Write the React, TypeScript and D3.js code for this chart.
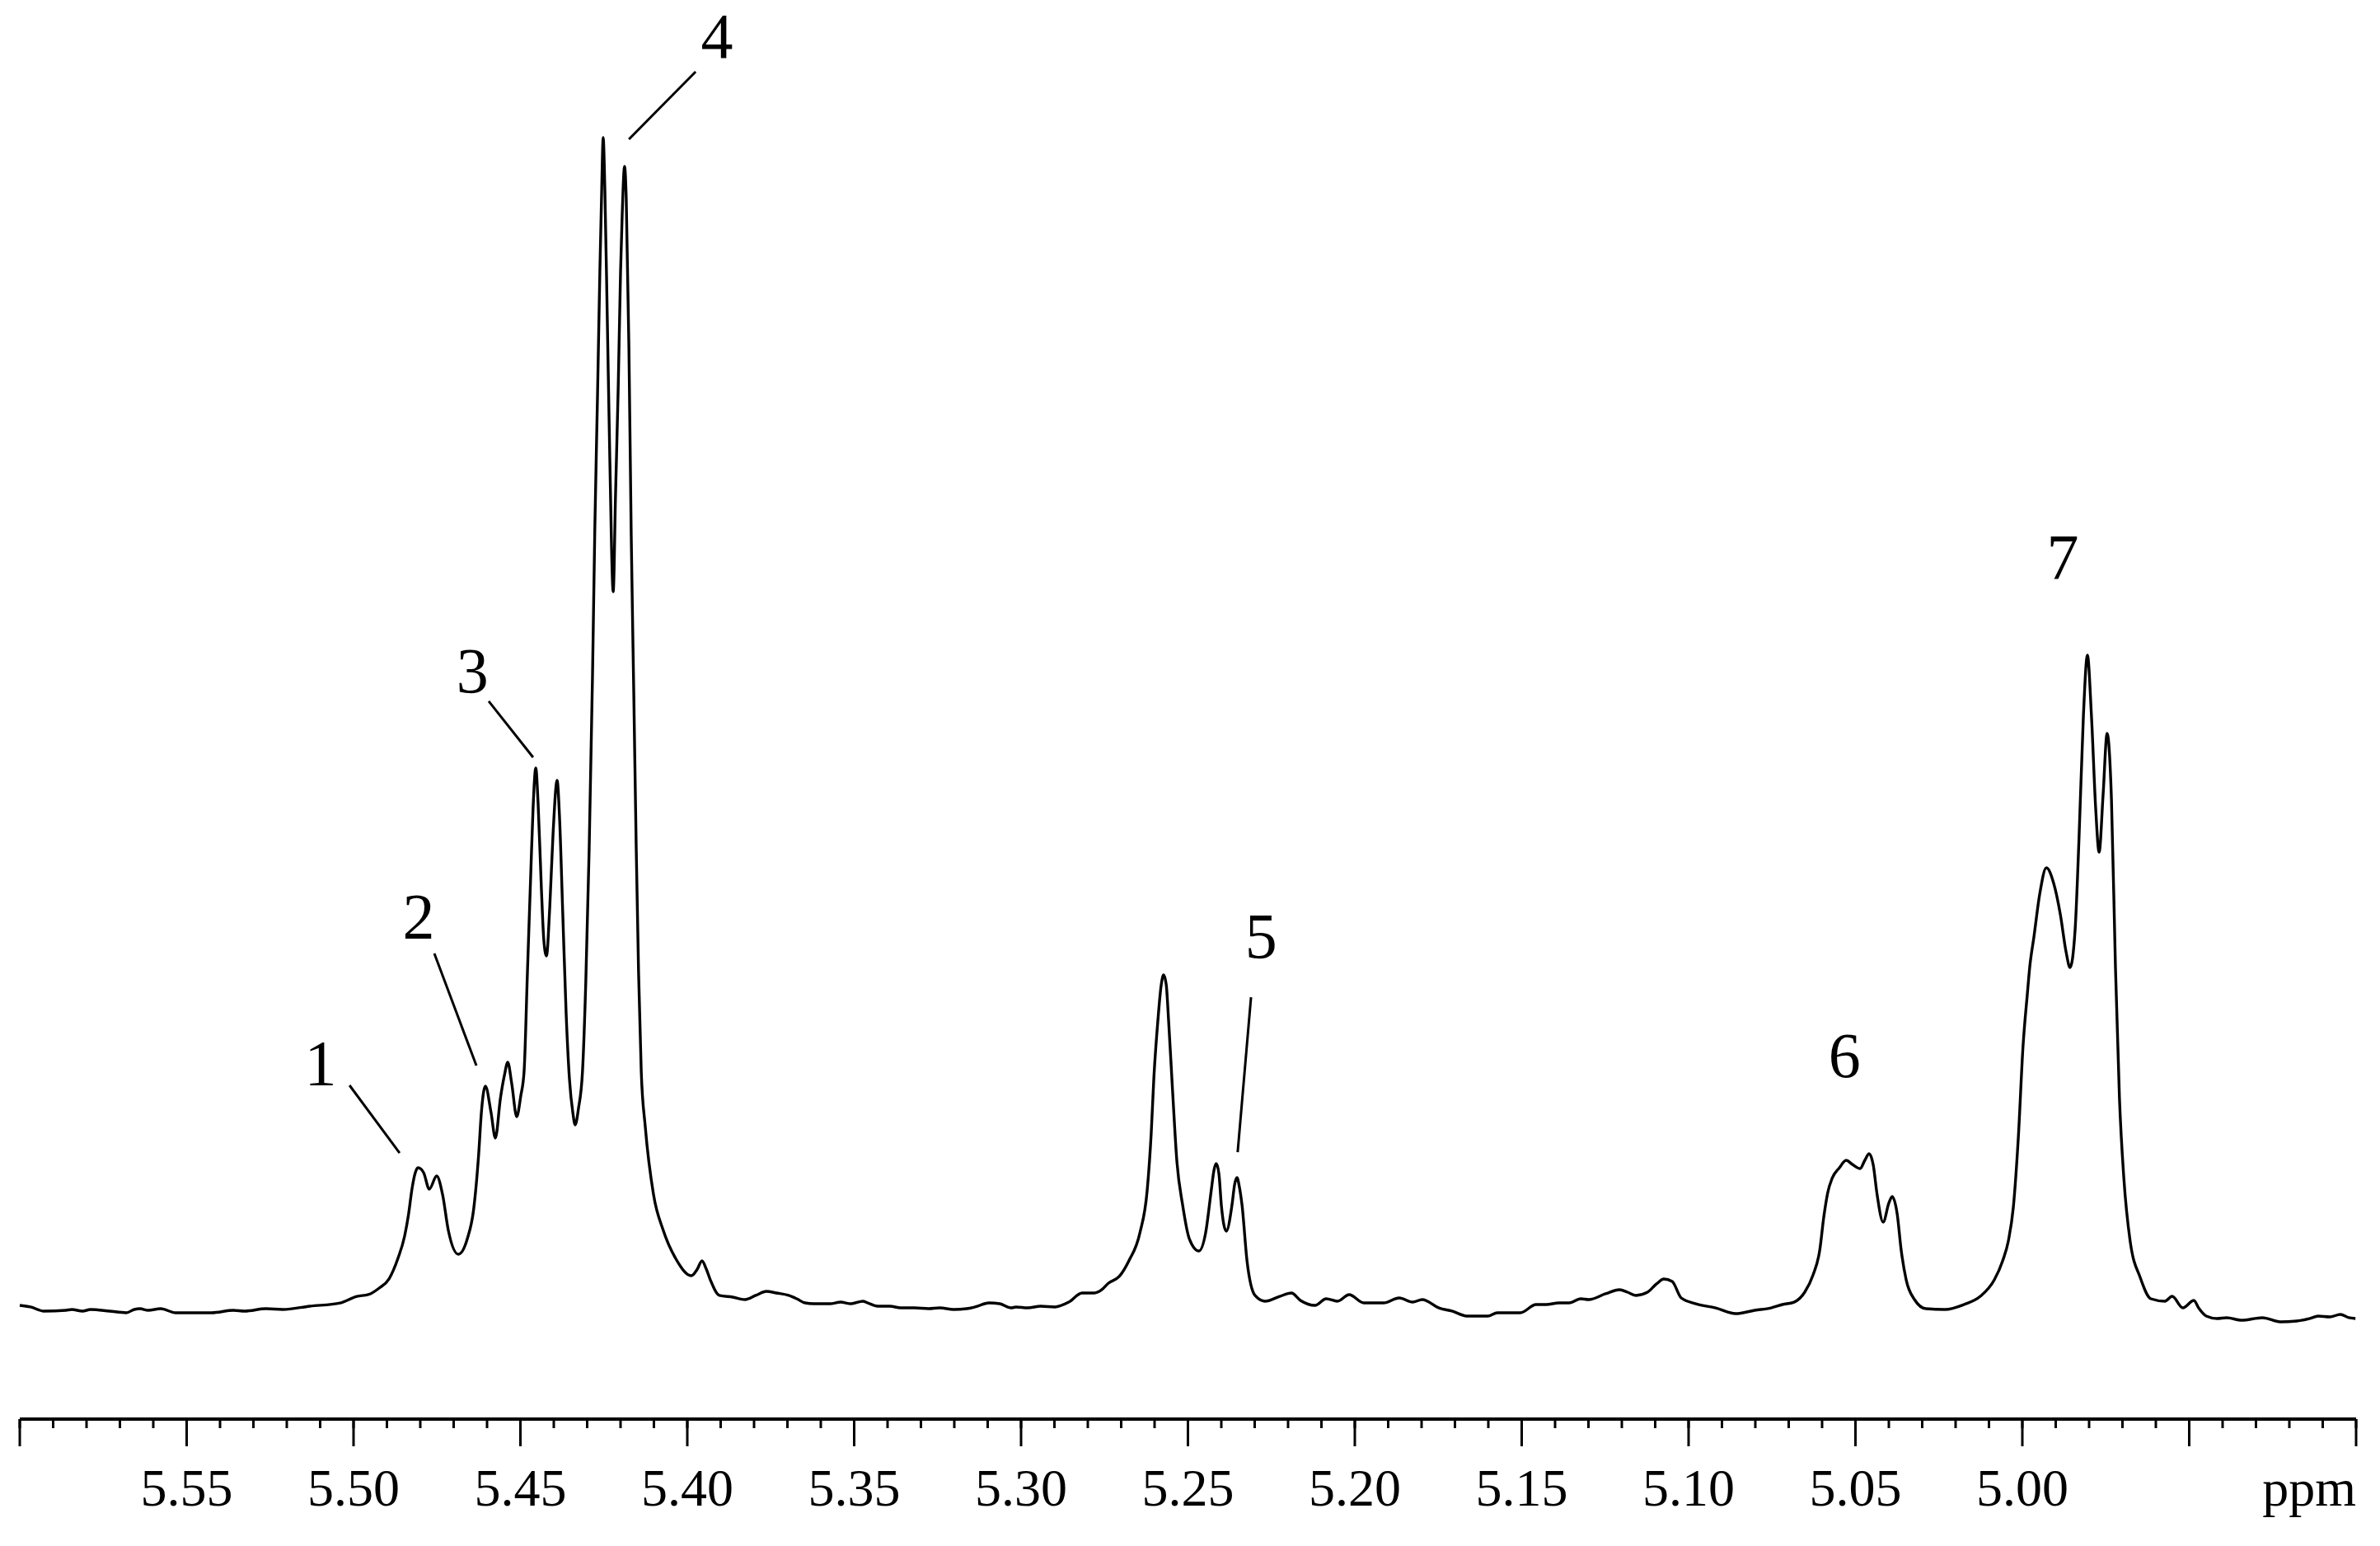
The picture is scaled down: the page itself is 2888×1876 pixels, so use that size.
import React from "react";
import * as d3 from "d3";

// Chemical shift (ppm), left to right
const shiftPpm = [
  5.6000, 5.5968, 5.5928, 5.5862, 5.5844, 5.5812, 5.5788, 5.5731, 5.5681, 5.5657,
  5.5640, 5.5615, 5.5578, 5.5533, 5.5484, 5.5425, 5.5360, 5.5326, 5.5262, 5.5212,
  5.5131, 5.5040, 5.4990, 5.4956, 5.4923, 5.4894, 5.4867, 5.4847, 5.4835, 5.4825, 5.4815,
  5.4807, 5.4790, 5.4773, 5.4751, 5.4733, 5.4716, 5.4686, 5.4659, 5.4640, 5.4625,
  5.4617, 5.4605, 5.4588, 5.4575, 5.4560, 5.4548, 5.4538, 5.4526, 5.4511, 5.4499,
  5.4489, 5.4479, 5.4469, 5.4462, 5.4454, 5.4447, 5.4437, 5.4430, 5.4422, 5.4412,
  5.4402, 5.4390, 5.4383, 5.4373, 5.4363, 5.4353, 5.4343, 5.4336, 5.4326, 5.4314,
  5.4304, 5.4294, 5.4284, 5.4277, 5.4269, 5.4262, 5.4257, 5.4252, 5.4247, 5.4240, 5.4232,
  5.4222, 5.4215, 5.4207, 5.4200, 5.4195, 5.4188, 5.4183, 5.4175, 5.4168, 5.4160,
  5.4153, 5.4146, 5.4138, 5.4126, 5.4101, 5.4072, 5.4035, 5.3988, 5.3970, 5.3956,
  5.3943, 5.3931, 5.3904, 5.3864, 5.3827, 5.3795, 5.3763, 5.3733, 5.3696, 5.3672,
  5.3647, 5.3622, 5.3573, 5.3541, 5.3509, 5.3474, 5.3459, 5.3430, 5.3393, 5.3361,
  5.3319, 5.3277, 5.3244, 5.3202, 5.3163, 5.3138, 5.3096, 5.3064, 5.3030, 5.3015,
  5.2980, 5.2941, 5.2899, 5.2857, 5.2817, 5.2780, 5.2758, 5.2738, 5.2706, 5.2677,
  5.2644, 5.2622, 5.2610, 5.2602, 5.2590, 5.2580, 5.2573, 5.2565, 5.2558, 5.2546,
  5.2533, 5.2516, 5.2496, 5.2467, 5.2447, 5.2430, 5.2422, 5.2415, 5.2407, 5.2400,
  5.2385, 5.2368, 5.2360, 5.2353, 5.2346, 5.2338, 5.2323, 5.2299, 5.2269, 5.2225,
  5.2190, 5.2163, 5.2119, 5.2086, 5.2052, 5.2017, 5.1973, 5.1914, 5.1867, 5.1827,
  5.1798, 5.1748, 5.1709, 5.1662, 5.1602, 5.1573, 5.1504, 5.1457, 5.1427, 5.1388,
  5.1358, 5.1323, 5.1299, 5.1249, 5.1207, 5.1183, 5.1158, 5.1123, 5.1096, 5.1074,
  5.1049, 5.1022, 5.0978, 5.0919, 5.0859, 5.0802, 5.0753, 5.0719, 5.0684, 5.0652,
  5.0627, 5.0607, 5.0595, 5.0583, 5.0570, 5.0548, 5.0528, 5.0509, 5.0486, 5.0472,
  5.0459, 5.0447, 5.0435, 5.0417, 5.0400, 5.0390, 5.0375, 5.0363, 5.0348, 5.0323,
  5.0289, 5.0232, 5.0175, 5.0126, 5.0084, 5.0059, 5.0042, 5.0027, 5.0012, 4.9998,
  4.9985, 4.9978, 4.9965, 4.9948, 4.9928, 4.9906, 4.9886, 4.9869, 4.9857, 4.9842,
  4.9830, 4.9817, 4.9805, 4.9793, 4.9780, 4.9770, 4.9758, 4.9746, 4.9733, 4.9721,
  4.9709, 4.9696, 4.9677, 4.9647, 4.9615, 4.9573, 4.9551, 4.9519, 4.9486, 4.9472,
  4.9449, 4.9417, 4.9388, 4.9343, 4.9281, 4.9227, 4.9178, 4.9138, 4.9114, 4.9079,
  4.9047, 4.9022, 4.9002,
];

// Signal intensity (arbitrary units, tallest line ≈ 100)
const intensity = [
  0.43, 0.29, -0.07, 0.0, 0.07, -0.07, 0.07, -0.07, -0.21, 0.07,
  0.14, 0.0, 0.14, -0.21, -0.21, -0.21, 0.0, -0.07, 0.14, 0.07,
  0.36, 0.64, 1.21, 1.36, 1.93, 2.71, 4.5, 6.43, 8.36, 10.5, 11.93,
  12.36, 11.93, 10.5, 11.64, 10.0, 6.93, 4.86, 6.21, 8.79, 13.57,
  17.14, 19.43, 17.14, 14.93, 18.36, 20.36, 21.5, 19.64, 16.79, 18.57,
  20.71, 29.29, 37.86, 43.57, 47.0, 43.93, 36.43, 32.14, 30.71, 35.0,
  41.43, 45.93, 42.86, 34.29, 25.71, 20.0, 17.14, 16.07, 17.5, 20.71,
  28.57, 40.0, 55.0, 67.86, 79.29, 90.0, 96.43, 101.64, 97.14, 86.43, 73.57,
  62.29, 70.71, 80.0, 90.0, 95.0, 99.14, 96.43, 83.57, 67.14, 52.86,
  40.0, 29.29, 20.71, 15.93, 10.0, 6.93, 4.5, 3.0, 3.57, 4.29,
  3.57, 2.64, 1.29, 1.14, 0.93, 1.29, 1.64, 1.5, 1.29, 1.0,
  0.64, 0.57, 0.57, 0.71, 0.57, 0.79, 0.64, 0.36, 0.36, 0.21,
  0.21, 0.14, 0.21, 0.07, 0.14, 0.29, 0.64, 0.57, 0.21, 0.29,
  0.21, 0.36, 0.29, 0.71, 1.5, 1.5, 1.79, 2.36, 2.93, 4.29,
  6.71, 10.43, 15.36, 20.21, 25.14, 28.21, 29.07, 28.21, 25.14, 19.0,
  12.86, 9.14, 6.21, 5.14, 6.71, 10.43, 12.14, 12.71, 11.79, 9.14,
  6.86, 9.14, 10.93, 11.5, 10.71, 9.14, 4.29, 1.29, 0.79, 1.21,
  1.5, 0.86, 0.43, 1.0, 0.79, 1.36, 0.64, 0.64, 1.07, 0.71,
  0.93, 0.21, -0.07, -0.5, -0.5, -0.21, -0.21, 0.5, 0.5, 0.64,
  0.64, 1.0, 0.93, 1.43, 1.79, 1.57, 1.29, 1.57, 2.29, 2.71,
  2.5, 1.07, 0.57, 0.21, -0.29, 0.0, 0.21, 0.5, 0.71, 1.57,
  3.07, 5.21, 8.07, 10.21, 11.43, 12.36, 13.0, 12.64, 12.29, 13.0,
  13.57, 12.64, 10.0, 7.64, 9.29, 9.86, 8.36, 5.21, 2.64, 0.93,
  0.14, 0.07, 0.5, 1.21, 2.64, 4.29, 6.0, 8.93, 15.0, 22.86,
  27.43, 29.71, 32.43, 36.07, 38.36, 37.0, 34.29, 31.07, 29.71, 32.93,
  41.07, 51.57, 56.79, 51.57, 43.36, 39.71, 44.71, 50.0, 44.29, 29.71,
  18.36, 11.5, 6.0, 2.86, 1.0, 0.79, 1.21, 0.21, 0.86, 0.21,
  -0.5, -0.71, -0.64, -0.86, -0.64, -1.0, -0.93, -0.71, -0.5, -0.57,
  -0.36, -0.64, -0.71,
];

// Peak annotations
const peakLabels = ["1", "2", "3", "4", "5", "6", "7"];
const labelPpm = [5.5099, 5.4805, 5.4644, 5.3911, 5.2281, 5.0533, 4.9879];
const labelIntensity = [19.57, 32.29, 53.57, 108.57, 30.57, 20.21, 63.43];

// Leader lines (from label toward peak)
const leaderFromPpm = [5.5012, 5.4758, 5.4595, 5.3975, 5.2311];
const leaderFromInt = [19.5, 30.93, 52.79, 107.36, 27.14];
const leaderToPpm = [5.4862, 5.4632, 5.4462, 5.4175, 5.2351];
const leaderToInt = [13.64, 21.21, 47.93, 101.5, 13.71];

// Axis
const xDomain = [5.6, 4.9];
const labelledTicks = [5.55, 5.5, 5.45, 5.4, 5.35, 5.3, 5.25, 5.2, 5.15, 5.1, 5.05, 5.0];
const axisUnit = "ppm";

const W = 2888;
const H = 1876;

export default function App() {
  const x = d3.scaleLinear().domain(xDomain).range([24, 2859]);
  const y = d3.scaleLinear().domain([0, 100]).range([1590, 190]);

  const n = Math.min(shiftPpm.length, intensity.length);
  const points = shiftPpm.slice(0, n).map((p, i) => [p, intensity[i]] as [number, number]);
  const line = d3
    .line<[number, number]>()
    .x((d) => x(d[0]))
    .y((d) => y(d[1]))
    .curve(d3.curveMonotoneX);

  const axisY = 1722;
  const minorTicks = d3.range(0, 71).map((i) => +(4.9 + i * 0.01).toFixed(2));
  const majorTicks = d3.range(0, 15).map((i) => +(4.9 + i * 0.05).toFixed(2));
  const font = "'Liberation Serif', 'Times New Roman', serif";

  return (
    <svg
      width={W}
      height={H}
      viewBox={`0 0 ${W} ${H}`}
      style={{ position: "absolute", left: 0, top: 0, background: "#fff" }}
    >
      <rect x={0} y={0} width={W} height={H} fill="#fff" />
      <path d={line(points) || ""} fill="none" stroke="#000" strokeWidth={3.4} strokeLinejoin="round" />

      {/* leader lines */}
      {leaderFromPpm.map((p, i) => (
        <line
          key={"ld" + i}
          x1={x(p)}
          y1={y(leaderFromInt[i])}
          x2={x(leaderToPpm[i])}
          y2={y(leaderToInt[i])}
          stroke="#000"
          strokeWidth={3}
        />
      ))}

      {/* peak labels */}
      {peakLabels.map((t, i) => (
        <text
          key={"pl" + i}
          x={x(labelPpm[i])}
          y={y(labelIntensity[i])}
          textAnchor="middle"
          fontFamily={font}
          fontSize={78}
          fill="#000"
        >
          {t}
        </text>
      ))}

      {/* axis */}
      <line x1={x(xDomain[0])} x2={x(xDomain[1])} y1={axisY} y2={axisY} stroke="#000" strokeWidth={4} />
      {minorTicks.map((t) => (
        <line key={"mt" + t} x1={x(t)} x2={x(t)} y1={axisY} y2={axisY + 11} stroke="#000" strokeWidth={3} />
      ))}
      {majorTicks.map((t) => (
        <line key={"Mt" + t} x1={x(t)} x2={x(t)} y1={axisY} y2={axisY + 33} stroke="#000" strokeWidth={3} />
      ))}
      {labelledTicks.map((t) => (
        <text
          key={"tl" + t}
          x={x(t)}
          y={1827}
          textAnchor="middle"
          fontFamily={font}
          fontSize={64}
          fill="#000"
        >
          {t.toFixed(2)}
        </text>
      ))}
      <text x={x(xDomain[1])} y={1827} textAnchor="end" fontFamily={font} fontSize={64} fill="#000">
        {axisUnit}
      </text>
    </svg>
  );
}
